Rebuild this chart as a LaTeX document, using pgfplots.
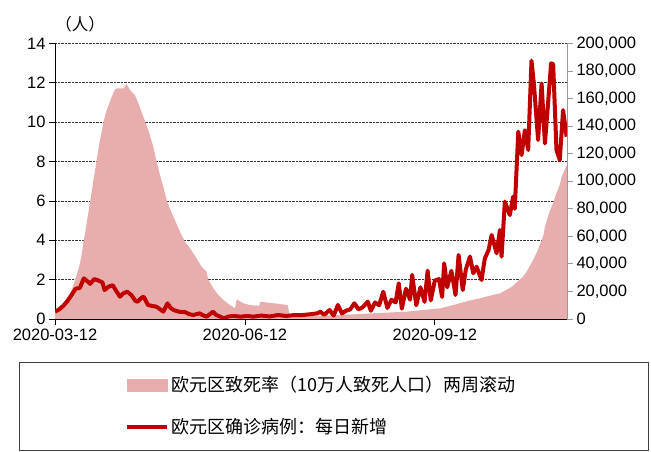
\documentclass[border=0pt]{standalone}
\usepackage{pgfplots}
\pgfplotsset{compat=1.18}
\usepackage{fontspec}
\setmainfont{Liberation Sans}
\newfontfamily\cjk{Noto Sans CJK SC}
\definecolor{pinkc}{HTML}{E8AEAD}
\definecolor{redc}{HTML}{C00000}

\pgfplotstableread{
day val
0 0.46
2 0.6
4 0.8
6 1.1
7.3 1.3
8.5 1.6
9.7 1.98
11 2.4
12.1 2.83
13 3.3
13.7 3.85
14.5 4.3
15.3 4.86
16 5.3
16.9 5.88
18 6.6
18.6 7.06
19.5 7.6
20.2 8.08
21 8.6
21.8 9.1
22.6 9.5
23.4 9.94
24.2 10.3
25 10.6
26.6 11.04
28.2 11.47
29 11.67
30 11.72
33.1 11.72
34.7 11.94
36.3 11.64
38.7 11.38
40.4 10.96
42.8 10.28
45.2 9.6
47.6 8.76
49 8.1
50.9 7.3
52.5 6.7
54.1 6.05
55.7 5.6
57.3 5.2
59 4.8
60.5 4.44
62.9 3.93
65.4 3.59
68.6 3.08
71 2.66
73.4 2.4
74.3 1.98
76.7 1.56
79.1 1.22
81.5 0.97
84.7 0.71
87.2 0.54
88 1.0
91.2 0.8
94.4 0.71
99 0.66
99.3 0.88
105.7 0.8
112.7 0.71
113.8 0.12
122 0.15
138 0.2
154 0.29
170 0.37
186.6 0.54
193 0.71
199.4 0.9
205.8 1.05
212 1.22
215.5 1.3
220 1.56
222 1.7
224 1.9
226.8 2.15
229 2.5
231.6 3.0
233.5 3.4
235.7 4.0
236.7 4.3
237.3 4.7
238.5 5.1
239.7 5.5
241.3 5.9
242.9 6.4
244.5 6.8
245.3 7.2
247.5 7.74
248 7.8
}\deathtable

\pgfplotstableread{
day val
0 5300
2 7000
4 9500
6 13000
8 17400
10 22000
12 22500
14 29500
16 27000
17 25500
19 29000
21 28000
23 26500
24 21000
26 23500
28 24500
30 19500
31.5 16200
33 18500
35 19800
37 17400
39 13000
40 12600
42 15500
43 16200
45 10200
47 9500
49 9000
51 7000
52.5 5300
54.5 11400
56 8000
57.5 6500
60 5300
63 5000
65 3500
67 2900
70 4100
72 2500
73.5 1700
76.5 5300
78 3000
80 1700
82 300
84 1800
86.3 2200
90 1700
93 2200
96 1700
100 2500
104 1800
108 2900
112 2200
116 2900
120 2900
124 3500
127 4100
128.5 5300
130.4 3000
133 6500
135 2500
137 10200
139 4000
141 6000
143 7000
145 11400
147 7000
149 8500
151.5 12600
153 6000
155 12000
157 10000
159 19800
161 8000
163 14000
165 12000
166.5 25900
168 7500
170 22000
172 14000
173 32000
175 10000
177 23000
179 12500
180.5 35100
182 13500
184 28000
186 29000
187.5 16000
188.5 40400
190 23000
192 35000
194 17400
195.5 46500
197.5 21000
199 36000
201 45300
202.6 33200
204.2 38000
206.6 28300
208.2 44000
210 50000
211.5 61000
213.9 47700
215.5 64600
216.3 45300
217.9 85200
220.3 75500
221.9 88800
222.7 80000
224.4 136000
226 119000
227.6 137000
229.2 122700
230.8 187500
232 170000
234 130000
235.7 171000
237.3 127500
239 160000
240.3 185600
241.3 185000
242.9 122700
244.5 115400
246.1 151700
247.8 132400
}\casetable

\begin{document}
\begin{tikzpicture}
\useasboundingbox (-55pt,-133pt) rectangle (596pt,319pt);
\begin{axis}[
  at={(0pt,0pt)}, anchor=south west,
  scale only axis, width=512pt, height=275.5pt,
  xmin=0, xmax=248, ymin=0, ymax=14,
  ytick={0,2,...,14},
  xtick={0,92,184},
  xticklabels={2020-03-12,2020-06-12,2020-09-12},
  axis x line*=bottom, axis y line*=left,
  axis line style={-, black, line width=0.8pt},
  tick align=outside, major tick length=6pt,
  tick style={black, line width=0.8pt},
  ymajorgrids, grid style={densely dotted, black!80, line width=0.8pt},
  ticklabel style={font=\fontsize{16.5}{19}\selectfont},
  /pgf/number format/assume math mode=true,
  clip=false,
]
\addplot[fill=pinkc, draw=none] table[x=day,y=val] {\deathtable} \closedcycle;
\end{axis}
\begin{axis}[
  at={(0pt,0pt)}, anchor=south west,
  scale only axis, width=512pt, height=275.5pt,
  xmin=0, xmax=248, ymin=0, ymax=200000,
  ytick={0,20000,...,200000},
  scaled y ticks=false,
  yticklabel style={/pgf/number format/.cd, fixed, 1000 sep={,}},
  axis x line=none, axis y line*=right,
  axis line style={-, gray!80, line width=1pt},
  tick align=outside, major tick length=6pt,
  ytick style={gray!80, line width=0.8pt},
  ticklabel style={font=\fontsize{16.5}{19}\selectfont},
  /pgf/number format/assume math mode=true,
  legend cell align=left,
  legend style={at={(axis description cs:0.137,-0.20)}, anchor=north west,
    draw=none, fill=none, inner sep=0pt, row sep=21pt,
    font=\cjk\fontsize{18}{21}\selectfont},
]
\addlegendimage{legend image code/.code={\fill[pinkc] (0pt,-6pt) rectangle (40pt,6pt);}}
\addlegendentry{欧元区致死率（10万人致死人口）两周滚动}
\addplot[redc, line width=4pt, line join=round,
  legend image code/.code={\draw[redc, line width=4pt] (0pt,0pt) -- (40pt,0pt);}]
  table[x=day,y=val] {\casetable};
\addlegendentry{欧元区确诊病例：每日新增}
\end{axis}
\draw[black!75, line width=0.8pt] (-36pt,-43pt) rectangle (593pt,-131pt);
\node[font=\cjk\fontsize{16.5}{19}\selectfont] at (25pt,295pt) {（人）};
\end{tikzpicture}
\end{document}
